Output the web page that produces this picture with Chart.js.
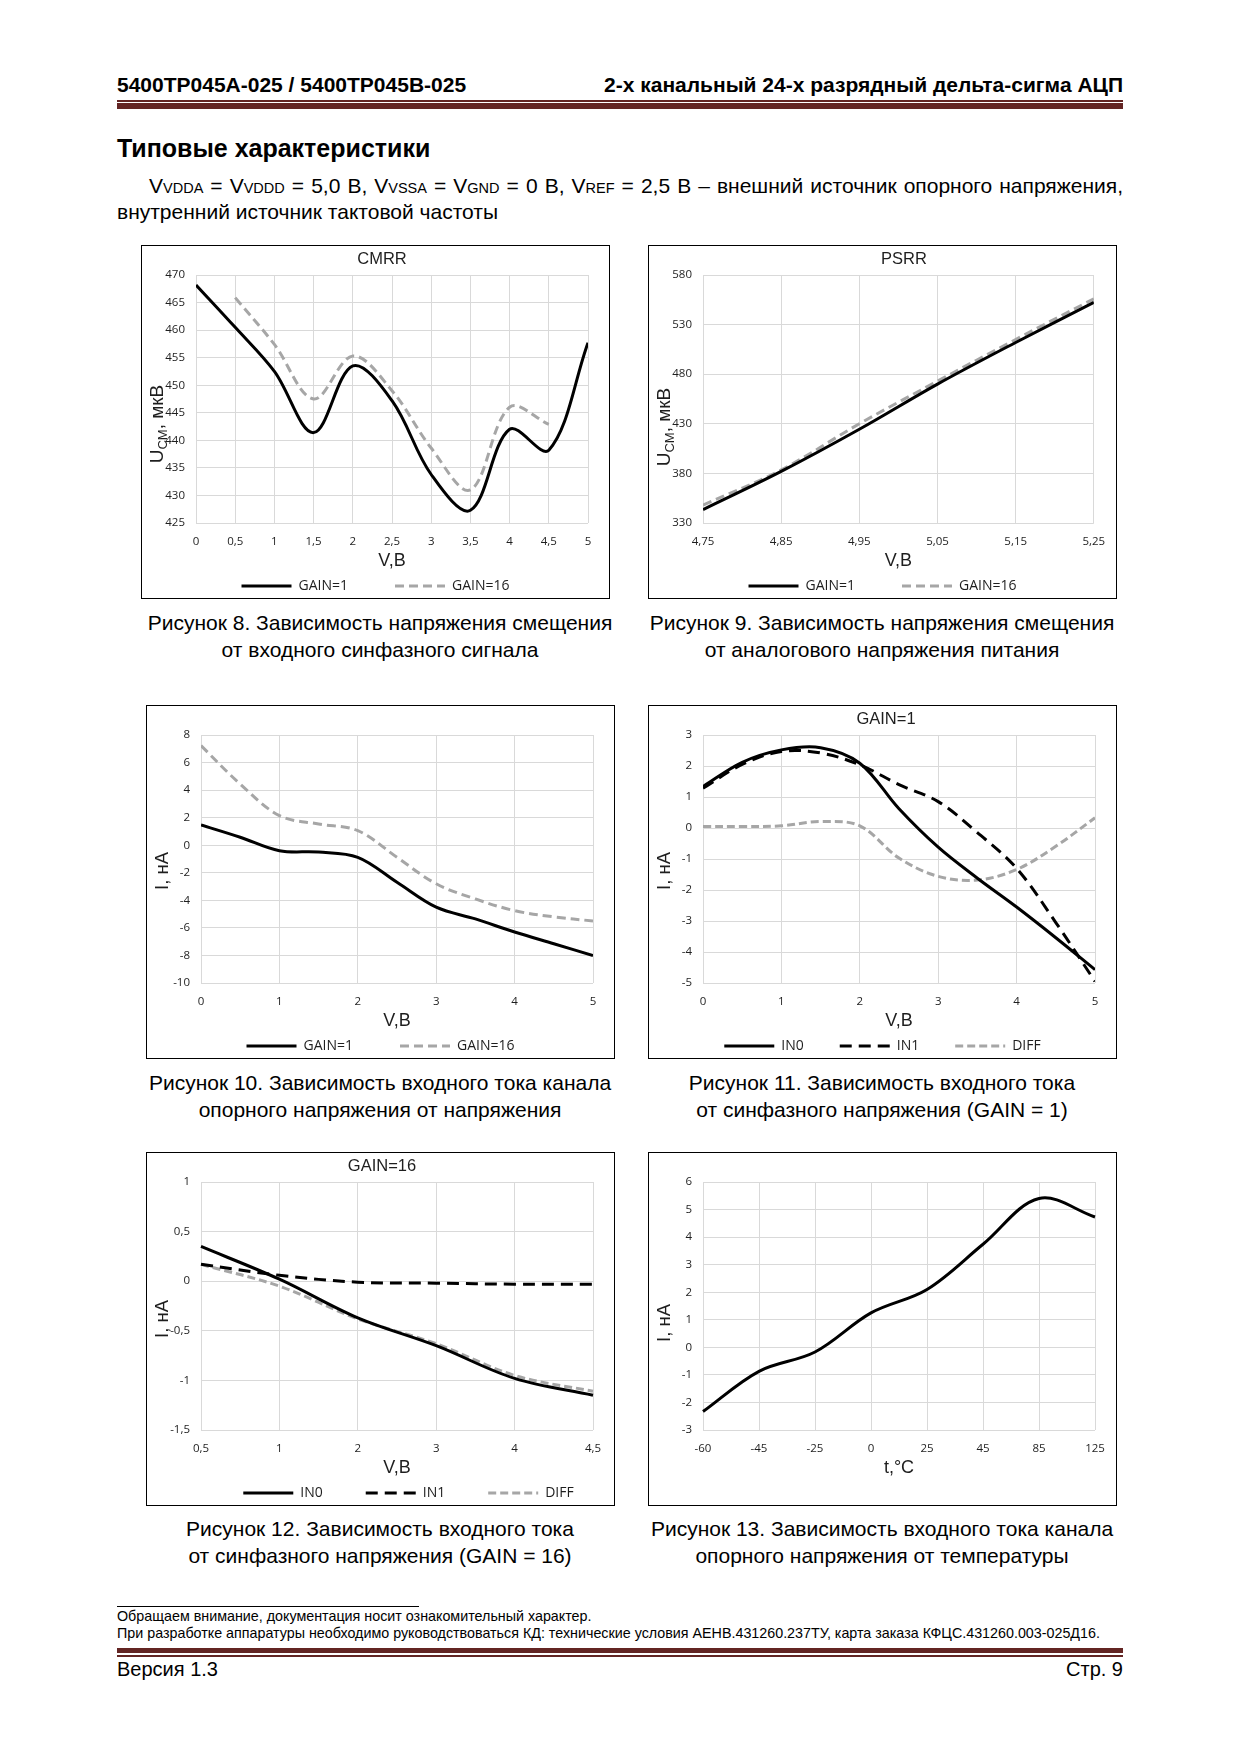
<!DOCTYPE html>
<html lang="ru">
<head>
<meta charset="utf-8">
<title>5400ТР045 — типовые характеристики</title>
<script src="https://cdn.jsdelivr.net/npm/chart.js@4.4.1/dist/chart.umd.min.js"></script>
<style>
  html, body { margin: 0; padding: 0; background: #fff; }
  body { position: relative; width: 1240px; height: 1754px; overflow: hidden; font-family: "Liberation Sans", Arial, sans-serif; color: #000; }
  .t { position: absolute; white-space: nowrap; }
  .hdr { font-size: 21px; font-weight: bold; line-height: 22px; top: 74px; }
  .rule { position: absolute; left: 117px; width: 1006px; background: #632523; }
  .para { position: absolute; left: 117px; width: 1006px; font-size: 21px; line-height: 26px; white-space: nowrap; }
  .s { font-size: 14.5px; }
  .box { position: absolute; width: 469px; height: 354px; }
  .box canvas { position: absolute; left: 0; top: 0; }
  .box .frame { position: absolute; left: 0; top: 0; right: 0; bottom: 0; border: 1.5px solid #000; box-sizing: border-box; pointer-events: none; }
  .cap { position: absolute; width: 540px; text-align: center; font-size: 21px; line-height: 27px; }
  .foot { font-size: 14.3px; line-height: 17px; }
</style>
</head>
<body>

<div class="t hdr" style="left:117px">5400ТР045А-025 / 5400ТР045В-025</div>
<div class="t hdr" style="right:117px">2-х канальный 24-х разрядный дельта-сигма АЦП</div>
<div class="rule" style="top:100px;height:1.5px"></div>
<div class="rule" style="top:103px;height:6px"></div>

<div class="t" style="left:117px;top:134px;font-size:25px;font-weight:bold;line-height:28px">Типовые характеристики</div>
<div class="para" style="top:173px;text-align:justify;text-align-last:justify;text-indent:32px;white-space:normal">V<span class="s">VDDA</span> = V<span class="s">VDDD</span> = 5,0 В, V<span class="s">VSSA</span> = V<span class="s">GND</span> = 0 В, V<span class="s">REF</span> = 2,5 В – внешний источник опорного напряжения,</div>
<div class="para" style="top:199px">внутренний источник тактовой частоты</div>

<div class="box" style="left:141px;top:245px"><canvas id="c1" width="469" height="354"></canvas><div class="frame"></div></div>
<div class="box" style="left:648px;top:245px"><canvas id="c2" width="469" height="354"></canvas><div class="frame"></div></div>
<div class="cap" style="left:110px;top:609px">Рисунок 8. Зависимость напряжения смещения<br>от входного синфазного сигнала</div>
<div class="cap" style="left:612px;top:609px">Рисунок 9. Зависимость напряжения смещения<br>от аналогового напряжения питания</div>

<div class="box" style="left:146px;top:705px"><canvas id="c3" width="469" height="354"></canvas><div class="frame"></div></div>
<div class="box" style="left:648px;top:705px"><canvas id="c4" width="469" height="354"></canvas><div class="frame"></div></div>
<div class="cap" style="left:110px;top:1069px">Рисунок 10. Зависимость входного тока канала<br>опорного напряжения от напряжения</div>
<div class="cap" style="left:612px;top:1069px">Рисунок 11. Зависимость входного тока<br>от синфазного напряжения (GAIN = 1)</div>

<div class="box" style="left:146px;top:1152px"><canvas id="c5" width="469" height="354"></canvas><div class="frame"></div></div>
<div class="box" style="left:648px;top:1152px"><canvas id="c6" width="469" height="354"></canvas><div class="frame"></div></div>
<div class="cap" style="left:110px;top:1515px">Рисунок 12. Зависимость входного тока<br>от синфазного напряжения (GAIN = 16)</div>
<div class="cap" style="left:612px;top:1515px">Рисунок 13. Зависимость входного тока канала<br>опорного напряжения от температуры</div>

<div style="position:absolute;left:117px;top:1606px;width:302px;height:1px;background:#000"></div>
<div class="t foot" style="left:117px;top:1608px">Обращаем внимание, документация носит ознакомительный характер.<br>При разработке аппаратуры необходимо руководствоваться КД: технические условия АЕНВ.431260.237ТУ, карта заказа КФЦС.431260.003-025Д16.</div>
<div class="rule" style="top:1648px;height:5px"></div>
<div class="rule" style="top:1655px;height:1.5px"></div>
<div class="t" style="left:117px;top:1656px;font-size:20px;line-height:26px">Версия 1.3</div>
<div class="t" style="right:117px;top:1656px;font-size:20px;line-height:26px">Стр. 9</div>

<script>
// Рисунок 8 - CMRR
const cmrrV = [0, 0.5, 1, 1.5, 2, 2.5, 3, 3.5, 4, 4.5, 5];
const cmrrGain1 = [468.2, 460.5, 452.5, 441.4, 453.5, 447.2, 433.8, 427.3, 442, 438.2, 457.7];
const cmrrV16 = [0.5, 1, 1.5, 2, 2.5, 3, 3.5, 4, 4.5];
const cmrrGain16 = [465.9, 457.4, 447.5, 455.3, 449, 438.6, 431, 446, 442.9];

// Рисунок 9 - PSRR
const psrrV = [4.75, 4.85, 4.95, 5.05, 5.15, 5.25];
const psrrTicks = [4.75, 4.85, 4.95, 5.05, 5.15, 5.25];
const psrrGain1 = [343.5, 382, 424.5, 470, 512, 552.5];
const psrrGain16 = [348, 383.5, 430, 473, 515, 556];

// Рисунок 10
const refV = [0, 0.5, 1, 1.5, 2, 2.5, 3, 3.5, 4, 4.5, 5];
const refGain1 = [1.47, 0.58, -0.4, -0.5, -0.88, -2.69, -4.5, -5.35, -6.3, -7.15, -8.0];
const refGain16 = [7.23, 4.44, 2.15, 1.54, 1.06, -0.88, -2.8, -3.9, -4.75, -5.2, -5.5];

// Рисунок 11 (GAIN=1)
const g1V = [0, 0.5, 1, 1.5, 2, 2.5, 3, 3.5, 4, 4.5, 5];
const g1In0 = [1.34, 2.12, 2.52, 2.59, 2.09, 0.62, -0.62, -1.62, -2.55, -3.54, -4.57];
const g1In1 = [1.28, 2.05, 2.47, 2.42, 2.04, 1.4, 0.85, -0.15, -1.3, -3.05, -4.95];
const g1Diff = [0.05, 0.05, 0.07, 0.21, 0.07, -0.97, -1.56, -1.68, -1.34, -0.59, 0.33];

// Рисунок 12 (GAIN=16)
const g16Labels = ["0,5", "1", "2", "3", "4", "4,5"];
const g16In0 = [0.35, 0.02, -0.37, -0.65, -0.98, -1.15];
const g16In1 = [0.17, 0.06, -0.01, -0.02, -0.03, -0.03];
const g16Diff = [0.17, -0.05, -0.38, -0.63, -0.95, -1.11];

// Рисунок 13
const tempLabels = ["-60", "-45", "-25", "0", "25", "45", "85", "125"];
const tempI = [-2.33, -0.87, -0.17, 1.25, 2.1, 3.74, 5.4, 4.73];

const FONT = "'Liberation Sans', Arial, sans-serif";
const TICKF = "'Open Sans', sans-serif";
const GRID = "#d9d9d9";
const TXT = "#1e1e1e";

const black = { borderColor: "#000", borderWidth: 3 };
const gray = { borderColor: "#a6a6a6", borderWidth: 3, borderDash: [9, 5] };
const blackDash = { borderColor: "#000", borderWidth: 3, borderDash: [12, 7] };
const grayShort = { borderColor: "#a6a6a6", borderWidth: 3, borderDash: [8, 4] };

const comma = v => String(Math.round(v * 100) / 100).replace(".", ",");
const xy = (xs, ys) => xs.map((x, i) => ({ x, y: ys[i] }));

// chart heading, y-axis title (rotated, with subscript) and line legend
Chart.register({
  id: "decor",
  afterDraw(chart, args, o) {
    const { ctx, chartArea } = chart;
    ctx.save();
    ctx.fillStyle = TXT;

    if (o.title) {
      ctx.font = "16.5px " + FONT;
      ctx.textAlign = "center";
      ctx.textBaseline = "middle";
      ctx.fillText(o.title, o.titleX, 14);
    }

    if (o.yTitle) {
      ctx.save();
      ctx.translate(15, (chartArea.top + chartArea.bottom) / 2 + o.yDy);
      ctx.rotate(-Math.PI / 2);
      ctx.textAlign = "left";
      ctx.textBaseline = "alphabetic";
      let w = 0;
      o.yTitle.forEach(p => { ctx.font = p.size + "px " + FONT; w += ctx.measureText(p.t).width; });
      let x = -w / 2;
      o.yTitle.forEach(p => {
        ctx.font = p.size + "px " + FONT;
        ctx.fillText(p.t, x, 6.6 + (p.sub ? 4 : 0));
        x += ctx.measureText(p.t).width;
      });
      ctx.restore();
    }

    if (o.legend) {
      const ds = chart.data.datasets;
      const lineW = 50, textGap = 7, y = 341;
      ctx.font = "14px " + TICKF;
      const widths = ds.map(d => lineW + textGap + ctx.measureText(d.label).width);
      const total = widths.reduce((a, b) => a + b, 0) + o.gap * (ds.length - 1);
      let x = chart.width / 2 - total / 2 + (o.legendDx || 0);
      ds.forEach((d, i) => {
        ctx.beginPath();
        ctx.setLineDash(d.borderDash || []);
        ctx.lineWidth = d.borderWidth;
        ctx.strokeStyle = d.borderColor;
        ctx.moveTo(x, y);
        ctx.lineTo(x + lineW, y);
        ctx.stroke();
        ctx.setLineDash([]);
        ctx.textAlign = "left";
        ctx.textBaseline = "middle";
        ctx.fillText(d.label, x + lineW + textGap, y + 0.5);
        x += widths[i] + o.gap;
      });
    }
    ctx.restore();
  }
});

function makeChart(id, c) {
  const tickFont = { family: TICKF, size: 11.5 };
  const xH = 49;

  const x = {
    border: { display: false },
    grid: { color: GRID, lineWidth: 1, drawTicks: false, offset: false },
    ticks: { font: tickFont, color: TXT, padding: 11.8, maxRotation: 0, autoSkip: false },
    title: { display: true, text: c.xTitle, font: { family: FONT, size: 18 }, color: TXT, padding: 0 },
    afterFit: s => { s.height = xH; }
  };
  if (c.labels) {
    x.type = "category";
    x.offset = false;
  } else {
    x.type = "linear";
    x.min = c.xMin; x.max = c.xMax;
    x.ticks.stepSize = c.xStep;
    x.ticks.callback = comma;
    if (c.xTicks) x.afterBuildTicks = s => { s.ticks = c.xTicks.map(value => ({ value })); };
  }

  return new Chart(document.getElementById(id), {
    type: "line",
    data: { labels: c.labels, datasets: c.datasets.map(d => Object.assign({ pointRadius: 0, tension: 0.35, fill: false }, d)) },
    options: {
      responsive: false,
      animation: false,
      layout: { padding: { top: 30, right: 22, bottom: 354 - 278 - xH, left: 0 } },
      scales: {
        x,
        y: {
          min: c.yMin, max: c.yMax,
          border: { display: false },
          grid: { color: GRID, lineWidth: 1, drawTicks: false },
          ticks: { stepSize: c.yStep, font: tickFont, color: TXT, padding: 11, callback: comma },
          afterFit: s => { s.width = 55; }
        }
      },
      plugins: {
        legend: { display: false },
        tooltip: { enabled: false },
        decor: {
          title: c.title, titleX: c.titleX,
          yTitle: c.yTitle, yDy: c.yDy,
          legend: c.legend !== false, gap: c.gap || 45, legendDx: c.legendDx
        }
      }
    }
  });
}

const ucm = [{ t: "U", size: 19 }, { t: "CM", size: 13 }, { t: ", мкВ", size: 19 }];
ucm[1].sub = true;
const ina = [{ t: "I, нА", size: 18.5 }];

makeChart("c1", {
  title: "CMRR", titleX: 241, xTitle: "V,В", yTitle: ucm, yDy: 25, gap: 47,
  xMin: 0, xMax: 5, xStep: 0.5, yMin: 425, yMax: 470, yStep: 5,
  datasets: [
    Object.assign({ label: "GAIN=1", data: xy(cmrrV, cmrrGain1) }, black),
    Object.assign({ label: "GAIN=16", data: xy(cmrrV16, cmrrGain16) }, gray)
  ]
});

makeChart("c2", {
  title: "PSRR", titleX: 256, xTitle: "V,В", yTitle: ucm, yDy: 28, gap: 47,
  xMin: 4.75, xMax: 5.25, xTicks: psrrTicks, yMin: 330, yMax: 580, yStep: 50,
  datasets: [
    Object.assign({ label: "GAIN=1", data: xy(psrrV, psrrGain1) }, black),
    Object.assign({ label: "GAIN=16", data: xy(psrrV, psrrGain16) }, gray)
  ]
});

makeChart("c3", {
  xTitle: "V,В", yTitle: ina, yDy: 12, gap: 47,
  xMin: 0, xMax: 5, xStep: 1, yMin: -10, yMax: 8, yStep: 2,
  datasets: [
    Object.assign({ label: "GAIN=1", data: xy(refV, refGain1) }, black),
    Object.assign({ label: "GAIN=16", data: xy(refV, refGain16) }, gray)
  ]
});

makeChart("c4", {
  title: "GAIN=1", titleX: 238, xTitle: "V,В", yTitle: ina, yDy: 12, gap: 36,
  xMin: 0, xMax: 5, xStep: 1, yMin: -5, yMax: 3, yStep: 1,
  datasets: [
    Object.assign({ label: "IN0", data: xy(g1V, g1In0) }, black),
    Object.assign({ label: "IN1", data: xy(g1V, g1In1) }, blackDash),
    Object.assign({ label: "DIFF", data: xy(g1V, g1Diff) }, grayShort)
  ]
});

makeChart("c5", {
  title: "GAIN=16", titleX: 236, xTitle: "V,В", yTitle: ina, yDy: 13, gap: 43, legendDx: 28,
  labels: g16Labels, yMin: -1.5, yMax: 1, yStep: 0.5,
  datasets: [
    Object.assign({ label: "IN0", data: g16In0 }, black),
    Object.assign({ label: "IN1", data: g16In1 }, blackDash),
    Object.assign({ label: "DIFF", data: g16Diff }, grayShort)
  ]
});

makeChart("c6", {
  xTitle: "t,°C", yTitle: ina, yDy: 17, legend: false,
  labels: tempLabels, yMin: -3, yMax: 6, yStep: 1,
  datasets: [
    Object.assign({ label: "I", data: tempI }, black)
  ]
});
</script>
</body>
</html>
